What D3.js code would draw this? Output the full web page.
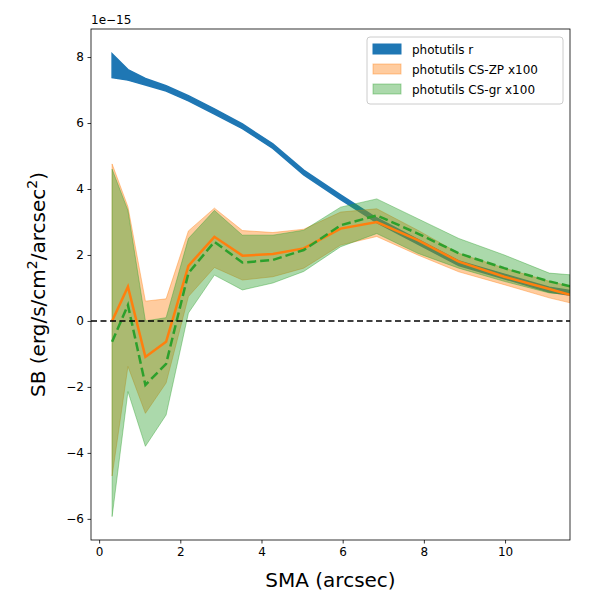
<!DOCTYPE html>
<html><head><meta charset="utf-8">
<script src="https://cdn.jsdelivr.net/npm/d3@7"></script>
<style>body{margin:0;background:#fff;font-family:"DejaVu Sans",sans-serif}</style>
</head><body><svg id="c" width="600" height="600"></svg>
<script>
// SMA (arcsec) and surface brightness (units of 1e-15)
const sma = [0.32,0.71,1.14,1.65,2.2,2.84,3.53,4.28,5.04,5.95,6.84,7.85,8.86,9.98,11.09,11.6];
const rMid = [7.75,7.45,7.25,7.05,6.75,6.35,5.9,5.3,4.5,3.75,3.05,2.4,1.75,1.35,0.95,0.85];
const rLo  = [7.38,7.3,7.15,6.97,6.67,6.27,5.83,5.23,4.43,3.68,2.98,2.33,1.68,1.28,0.88,0.78];
const rHi  = [8.1,7.62,7.35,7.13,6.83,6.43,5.97,5.37,4.57,3.82,3.12,2.47,1.82,1.42,1.02,0.92];
const zpMid = [0,1.04,-1.09,-0.63,1.67,2.55,1.98,2.03,2.2,2.8,3.0,2.45,1.8,1.34,0.97,0.79];
const zpHi  = [4.76,3.46,0.6,0.67,2.73,3.42,2.74,2.68,2.78,3.3,3.4,2.75,2.05,1.6,1.2,1.05];
const zpLo  = [-4.7,-1.38,-2.8,-1.88,0.74,1.62,1.24,1.34,1.6,2.3,2.56,2.0,1.49,1.1,0.7,0.55];
const grMid = [-0.63,0.48,-1.94,-1.3,1.45,2.4,1.77,1.85,2.15,2.9,3.2,2.65,2.05,1.6,1.2,1.05];
const grHi  = [4.6,3.35,0,0.1,2.5,3.35,2.6,2.6,2.75,3.45,3.7,3.1,2.5,2.0,1.45,1.4];
const grLo  = [-5.93,-2.14,-3.8,-2.85,0.24,1.39,0.94,1.15,1.5,2.25,2.65,2.05,1.6,1.2,0.85,0.8];
const xTicks = [0,2,4,6,8,10];
const yTicks = [-6,-4,-2,0,2,4,6,8];

const svg = d3.select("#c");
const L=91,R=570,T=29,B=540;
const x = d3.scaleLinear().domain([-0.2,11.6]).range([L,R]);
const y = d3.scaleLinear().domain([-6.64,8.85]).range([B,T]);
svg.append("clipPath").attr("id","cp").append("rect").attr("x",L).attr("y",T).attr("width",R-L).attr("height",B-T);
const g = svg.append("g").attr("clip-path","url(#cp)");
const idx = d3.range(sma.length);
const band = (lo,hi)=>d3.area().x(i=>x(sma[i])).y0(i=>y(lo[i])).y1(i=>y(hi[i]))(idx);
const line = v=>d3.line().x(i=>x(sma[i])).y(i=>y(v[i]))(idx);

g.append("path").attr("d",band(rLo,rHi)).attr("fill","#1f77b4").attr("stroke","#1f77b4").attr("stroke-width",1.5);
g.append("path").attr("d",band(zpLo,zpHi)).attr("fill","#ff7f0e").attr("fill-opacity",0.4).attr("stroke","#ff7f0e").attr("stroke-opacity",0.4);
g.append("path").attr("d",band(grLo,grHi)).attr("fill","#2ca02c").attr("fill-opacity",0.4).attr("stroke","#2ca02c").attr("stroke-opacity",0.4);
g.append("path").attr("d",line(zpMid)).attr("fill","none").attr("stroke","#ff7f0e").attr("stroke-width",2.5);
g.append("path").attr("d",line(grMid)).attr("fill","none").attr("stroke","#2ca02c").attr("stroke-width",2.5).attr("stroke-dasharray","9,4");
g.append("line").attr("x1",L).attr("x2",R).attr("y1",y(0)).attr("y2",y(0)).attr("stroke","#000").attr("stroke-width",1.5).attr("stroke-dasharray","6,3.5");

const ax = svg.append("g").attr("transform",`translate(0,${B})`).call(d3.axisBottom(x).tickValues(xTicks).tickSize(3.5).tickPadding(3.5));
const ay = svg.append("g").attr("transform",`translate(${L},0)`).call(d3.axisLeft(y).tickValues(yTicks).tickSize(3.5).tickPadding(3.5).tickFormat(d=>d<0?"\u2212"+(-d):d));
[ax,ay].forEach(a=>{a.select(".domain").remove();a.selectAll("text").attr("font-size",12).attr("font-family","DejaVu Sans").attr("fill","#000");a.selectAll("line").attr("stroke","#000").attr("stroke-width",0.8);});
svg.append("rect").attr("x",L).attr("y",T).attr("width",R-L).attr("height",B-T).attr("fill","none").attr("stroke","#000").attr("stroke-width",0.8);

svg.append("text").attr("x",L).attr("y",T-5).attr("font-size",12).text("1e\u221215");
svg.append("text").attr("x",(L+R)/2).attr("y",587).attr("text-anchor","middle").attr("font-size",20).text("SMA (arcsec)");
const yl = svg.append("text").attr("transform",`translate(45,${(T+B)/2}) rotate(-90)`).attr("text-anchor","middle").attr("font-size",20);
yl.append("tspan").text("SB (erg/s/cm");
yl.append("tspan").attr("dy",-8).attr("font-size",14).text("2");
yl.append("tspan").attr("dy",8).text("/arcsec");
yl.append("tspan").attr("dy",-8).attr("font-size",14).text("2");
yl.append("tspan").attr("dy",8).text(")");

const lg = svg.append("g").attr("transform","translate(367,37)");
lg.append("rect").attr("width",196).attr("height",67).attr("rx",3).attr("fill","#fff").attr("fill-opacity",0.8).attr("stroke","#ccc");
const items=[["photutils r","#1f77b4",1],["photutils CS-ZP x100","#ff7f0e",0.4],["photutils CS-gr x100","#2ca02c",0.4]];
items.forEach((d,i)=>{
  lg.append("rect").attr("x",6).attr("y",7+i*20).attr("width",28).attr("height",10).attr("fill",d[1]).attr("fill-opacity",d[2]).attr("stroke",d[1]).attr("stroke-opacity",d[2]);
  lg.append("text").attr("x",45).attr("y",17+i*20).attr("font-size",12).text(d[0]);
});
</script></body></html>
